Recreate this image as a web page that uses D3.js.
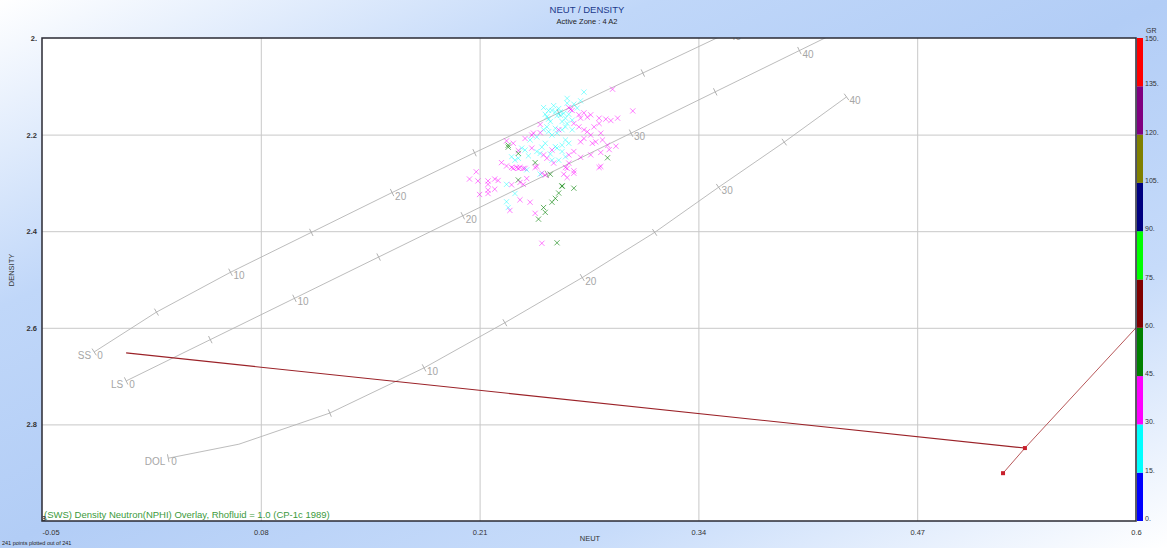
<!DOCTYPE html>
<html>
<head>
<meta charset="utf-8">
<script src="https://cdnjs.cloudflare.com/ajax/libs/d3/7.8.5/d3.min.js"></script>
<style>
  html, body { margin: 0; padding: 0; overflow: hidden; }
  svg { display: block; font-family: "Liberation Sans", Arial, sans-serif; }
</style>
</head>
<body>
<div id="chart"></div>
<script>
// axis ticks
var xTicks = [-0.05, 0.08, 0.21, 0.34, 0.47, 0.6];
var xTickLabels = ["-0.05", "0.08", "0.21", "0.34", "0.47", "0.6"];
var yTicks = [2, 2.2, 2.4, 2.6, 2.8, 3];
var yTickLabels = ["2.", "2.2", "2.4", "2.6", "2.8", "3"];

// GR colour bar
var grBreaks = [0, 15, 30, 45, 60, 75, 90, 105, 120, 135, 150];
var grLabels = ["0.", "15.", "30.", "45.", "60.", "75.", "90.", "105.", "120.", "135.", "150."];
var grColors = ["#0000ff", "#00ffff", "#ff00ff", "#008000", "#800000", "#00ff00", "#000080", "#808000", "#800080", "#ff0000"];

// lithology lines (CP-1c), porosity null = bend vertex without tick
var ssPhi  = [0, 5, 10, 15, 20, 25, 30, 35, 40];
var ssNeut = [-0.019, 0.018, 0.062, 0.110, 0.158, 0.207, 0.257, 0.307, 0.357];
var ssDens = [2.65, 2.5675, 2.485, 2.4025, 2.32, 2.2375, 2.155, 2.0725, 1.99];

var lsPhi  = [0, 5, 10, 15, 20, 25, 30, 35, 40, 45];
var lsNeut = [0, 0.05, 0.10, 0.15, 0.20, 0.25, 0.30, 0.35, 0.40, 0.45];
var lsDens = [2.71, 2.6245, 2.539, 2.4535, 2.368, 2.2825, 2.197, 2.1115, 2.026, 1.9405];

var dolPhi  = [0, null, 5, 10, 15, 20, 25, 30, 35, 40];
var dolNeut = [0.025, 0.067, 0.121, 0.177, 0.225, 0.271, 0.314, 0.352, 0.391, 0.428];
var dolDens = [2.87, 2.841, 2.7765, 2.683, 2.5895, 2.496, 2.4025, 2.309, 2.2155, 2.122];

// red overlay
var overlayA = [[0.0, 2.652], [0.534, 2.849]];
var overlayB = [[0.521, 2.901], [0.534, 2.849], [0.6, 2.600]];
var overlayMarks = [[0.534, 2.849], [0.521, 2.901]];

// data points [NEUT, DENSITY, GR]
var points = [
  [0.289,2.106,38],[0.272,2.112,22],[0.301,2.151,38],[0.262,2.125,22],[0.262,2.135,24],
  [0.266,2.137,22],[0.264,2.148,38],[0.265,2.150,40],[0.263,2.144,36],[0.248,2.144,22],
  [0.253,2.150,22],[0.255,2.153,25],[0.258,2.153,22],[0.260,2.156,20],[0.256,2.161,22],
  [0.249,2.158,22],[0.250,2.163,26],[0.269,2.159,38],[0.272,2.155,38],[0.274,2.164,36],
  [0.276,2.159,40],[0.270,2.166,38],[0.281,2.166,38],[0.285,2.168,38],[0.292,2.166,40],
  [0.288,2.171,38],[0.261,2.166,22],[0.265,2.170,22],[0.259,2.173,24],[0.252,2.173,22],
  [0.246,2.179,38],[0.250,2.184,22],[0.255,2.187,22],[0.259,2.190,22],[0.261,2.184,26],
  [0.251,2.194,22],[0.248,2.190,22],[0.266,2.177,38],[0.269,2.184,38],[0.272,2.190,40],
  [0.274,2.194,38],[0.278,2.184,36],[0.281,2.177,38],[0.276,2.201,38],[0.241,2.201,38],
  [0.242,2.197,40],[0.240,2.211,22],[0.246,2.196,38],[0.253,2.201,22],[0.265,2.190,22],
  [0.257,2.190,38],[0.282,2.197,38],[0.283,2.211,38],[0.261,2.211,22],[0.263,2.218,22],
  [0.259,2.222,24],[0.255,2.225,22],[0.270,2.215,38],[0.272,2.208,38],[0.277,2.218,40],
  [0.279,2.215,38],[0.286,2.222,38],[0.287,2.231,38],[0.291,2.224,38],[0.226,2.213,38],
  [0.227,2.222,52],[0.227,2.226,52],[0.230,2.218,38],[0.235,2.228,22],[0.233,2.233,38],
  [0.233,2.239,52],[0.237,2.208,38],[0.237,2.232,22],[0.241,2.228,38],[0.244,2.235,22],
  [0.246,2.239,22],[0.248,2.242,38],[0.250,2.249,38],[0.229,2.246,22],[0.231,2.253,22],
  [0.233,2.249,24],[0.253,2.232,38],[0.256,2.228,22],[0.259,2.235,22],[0.261,2.246,22],
  [0.257,2.253,22],[0.253,2.253,22],[0.263,2.242,38],[0.266,2.235,38],[0.270,2.247,38],
  [0.276,2.242,38],[0.282,2.237,38],[0.286,2.248,52],[0.223,2.258,38],[0.226,2.265,38],
  [0.229,2.268,38],[0.232,2.268,40],[0.234,2.268,38],[0.243,2.258,52],[0.243,2.268,38],
  [0.254,2.259,38],[0.261,2.268,38],[0.263,2.259,38],[0.281,2.268,38],[0.237,2.270,38],
  [0.208,2.277,38],[0.204,2.292,38],[0.209,2.296,38],[0.215,2.296,38],[0.215,2.303,38],
  [0.219,2.292,38],[0.221,2.295,38],[0.210,2.324,38],[0.215,2.315,40],[0.215,2.322,38],
  [0.219,2.313,38],[0.226,2.303,22],[0.229,2.304,38],[0.233,2.294,52],[0.234,2.299,38],
  [0.236,2.303,38],[0.238,2.291,38],[0.231,2.322,22],[0.234,2.335,38],[0.240,2.340,38],
  [0.226,2.339,22],[0.227,2.351,22],[0.228,2.357,38],[0.243,2.363,38],[0.245,2.375,52],
  [0.248,2.351,52],[0.249,2.361,52],[0.253,2.340,52],[0.255,2.332,52],[0.257,2.321,52],
  [0.259,2.306,52],[0.259,2.307,50],[0.266,2.311,52],[0.247,2.280,38],[0.246,2.282,22],
  [0.249,2.284,38],[0.252,2.282,52],[0.260,2.282,38],[0.262,2.289,38],[0.266,2.280,38],
  [0.266,2.275,38],[0.262,2.270,38],[0.282,2.266,38],[0.244,2.266,38],[0.247,2.425,38],
  [0.256,2.424,52],[0.230,2.270,38],[0.233,2.270,38],[0.236,2.270,38],[0.238,2.273,22],
  [0.254,2.140,22],[0.257,2.146,22],[0.251,2.168,22],[0.262,2.177,22],[0.256,2.197,22],
  [0.244,2.205,22],[0.249,2.218,22],[0.252,2.240,22],[0.239,2.244,22],[0.247,2.226,22],
  [0.258,2.160,22],[0.263,2.158,22],[0.270,2.130,22],[0.268,2.145,22],[0.251,2.150,24]
];

var W = 1167, H = 548;
var plot = { left: 42, top: 38, right: 1136, bottom: 521 };

var svg = d3.select("#chart").append("svg")
    .attr("width", W)
    .attr("height", H);

// background gradient
var defs = svg.append("defs");
var grad = defs.append("linearGradient")
    .attr("id", "bg")
    .attr("x1", 0).attr("y1", 0).attr("x2", 1).attr("y2", 1);
grad.append("stop").attr("offset", 0).attr("stop-color", "#ffffff");
grad.append("stop").attr("offset", 0.28).attr("stop-color", "#c0d7f9");
grad.append("stop").attr("offset", 0.5).attr("stop-color", "#b2cdf6");
grad.append("stop").attr("offset", 0.74).attr("stop-color", "#c6dbfa");
grad.append("stop").attr("offset", 1).attr("stop-color", "#ffffff");

defs.append("clipPath").attr("id", "plotclip")
  .append("rect")
    .attr("x", plot.left).attr("y", plot.top)
    .attr("width", plot.right - plot.left)
    .attr("height", plot.bottom - plot.top);

svg.append("rect").attr("width", W).attr("height", H).attr("fill", "url(#bg)");

var x = d3.scaleLinear().domain([-0.05, 0.6]).range([plot.left, plot.right]);
var y = d3.scaleLinear().domain([2, 3]).range([plot.top, plot.bottom]);

svg.append("rect")
    .attr("x", plot.left).attr("y", plot.top)
    .attr("width", plot.right - plot.left)
    .attr("height", plot.bottom - plot.top)
    .attr("fill", "#ffffff");

// grid
var grid = svg.append("g");
grid.append("g")
    .attr("transform", "translate(0," + plot.bottom + ")")
    .call(d3.axisBottom(x).tickValues(xTicks.slice(1, -1)).tickSize(-(plot.bottom - plot.top)).tickFormat(""))
    .call(function(g) { g.select(".domain").remove(); });
grid.append("g")
    .attr("transform", "translate(" + plot.left + ",0)")
    .call(d3.axisLeft(y).tickValues(yTicks.slice(1, -1)).tickSize(-(plot.right - plot.left)).tickFormat(""))
    .call(function(g) { g.select(".domain").remove(); });
grid.selectAll(".tick line").attr("stroke", "#c8c8c8").attr("stroke-width", 1);

var inner = svg.append("g").attr("clip-path", "url(#plotclip)");

// lithology lines
function drawLith(name, phi, neut, dens) {
  var pts = phi.map(function(p, i) { return { phi: p, px: x(neut[i]), py: y(dens[i]) }; });
  var line = d3.line().x(function(d) { return d.px; }).y(function(d) { return d.py; });
  inner.append("path")
      .attr("d", line(pts))
      .attr("fill", "none")
      .attr("stroke", "#b4b4b4")
      .attr("stroke-width", 0.9);
  pts.forEach(function(d, idx) {
    if (d.phi === null) return;
    var a = pts[Math.max(0, idx - 1)], b = pts[Math.min(pts.length - 1, idx + 1)];
    var dx = b.px - a.px, dy = b.py - a.py, len = Math.sqrt(dx * dx + dy * dy);
    var nx = -dy / len * 4, ny = dx / len * 4;
    inner.append("line")
        .attr("x1", d.px - nx).attr("y1", d.py - ny)
        .attr("x2", d.px + nx).attr("y2", d.py + ny)
        .attr("stroke", "#a8a8a8").attr("stroke-width", 0.9);
    if (d.phi % 10 === 0 && !(name === "SS" && d.phi === 30)) {
      inner.append("text")
          .attr("x", d.px + 3).attr("y", d.py + 7)
          .attr("font-size", 10)
          .attr("fill", "#a6a6a6")
          .text(d.phi);
    }
  });
  inner.append("text")
      .attr("x", pts[0].px - 3).attr("y", pts[0].py + 7)
      .attr("text-anchor", "end")
      .attr("font-size", 10)
      .attr("fill", "#a6a6a6")
      .text(name);
}
drawLith("SS", ssPhi, ssNeut, ssDens);
drawLith("LS", lsPhi, lsNeut, lsDens);
drawLith("DOL", dolPhi, dolNeut, dolDens);

// red overlay
var redLine = d3.line().x(function(d) { return x(d[0]); }).y(function(d) { return y(d[1]); });
inner.append("path").attr("d", redLine(overlayA))
    .attr("fill", "none").attr("stroke", "#9b2228").attr("stroke-width", 1.1);
inner.append("path").attr("d", redLine(overlayB))
    .attr("fill", "none").attr("stroke", "#b8585a").attr("stroke-width", 1);
inner.selectAll(".mk").data(overlayMarks).enter().append("rect")
    .attr("x", function(d) { return x(d[0]) - 2; })
    .attr("y", function(d) { return y(d[1]) - 2; })
    .attr("width", 4).attr("height", 4)
    .attr("fill", "#c8202c");

// scatter points
var grColor = d3.scaleThreshold().domain(grBreaks.slice(1, -1)).range(grColors);
inner.selectAll(".pt").data(points).enter().append("path")
    .attr("transform", function(d) { return "translate(" + x(d[0]) + "," + y(d[1]) + ")"; })
    .attr("d", "M-2.6,-2.6L2.6,2.6M-2.6,2.6L2.6,-2.6")
    .attr("stroke", function(d) { return grColor(d[2]); })
    .attr("stroke-opacity", function(d) { return d[2] >= 45 ? 0.6 : (d[2] >= 30 ? 0.5 : 0.45); })
    .attr("stroke-width", 1);

// overlay caption
svg.append("text")
    .attr("x", 44).attr("y", 518)
    .attr("font-size", 9.5)
    .attr("fill", "#3c9a3c")
    .text("(SWS) Density Neutron(NPHI) Overlay, Rhofluid = 1.0 (CP-1c 1989)");

// frame
svg.append("rect")
    .attr("x", plot.left).attr("y", plot.top)
    .attr("width", plot.right - plot.left)
    .attr("height", plot.bottom - plot.top)
    .attr("fill", "none")
    .attr("stroke", "#2a2a33")
    .attr("stroke-width", 1.5);

// axes labels
var xAxis = svg.append("g")
    .attr("transform", "translate(0," + plot.bottom + ")")
    .call(d3.axisBottom(x).tickValues(xTicks).tickSize(0).tickPadding(9)
      .tickFormat(function(d, i) { return xTickLabels[i]; }));
xAxis.select(".domain").remove();
xAxis.selectAll("text").attr("font-size", 7.5).attr("fill", "#333")
    .attr("font-family", "Liberation Sans, Arial, sans-serif")
    .attr("text-anchor", function(d, i) { return i === 0 ? "start" : "middle"; });

var yAxis = svg.append("g")
    .attr("transform", "translate(" + plot.left + ",0)")
    .call(d3.axisLeft(y).tickValues(yTicks).tickSize(0).tickPadding(5)
      .tickFormat(function(d, i) { return yTickLabels[i]; }));
yAxis.select(".domain").remove();
yAxis.selectAll("text").attr("font-size", 7.5).attr("fill", "#333").attr("font-weight", "bold")
    .attr("font-family", "Liberation Sans, Arial, sans-serif");
yAxis.selectAll(".tick").filter(function(d) { return d === 3; }).select("text")
    .attr("x", 4).attr("dy", "-0.1em");

svg.append("text").attr("x", 590).attr("y", 541)
    .attr("text-anchor", "middle").attr("font-size", 7.5).attr("fill", "#333").text("NEUT");
svg.append("text").attr("transform", "translate(14,270) rotate(-90)")
    .attr("text-anchor", "middle").attr("font-size", 7.5).attr("fill", "#333").text("DENSITY");

// title
svg.append("text").attr("x", 587).attr("y", 13)
    .attr("text-anchor", "middle").attr("font-size", 9.5).attr("fill", "#1c3a8c").text("NEUT / DENSITY");
svg.append("text").attr("x", 587).attr("y", 24)
    .attr("text-anchor", "middle").attr("font-size", 7.5).attr("fill", "#222").text("Active Zone : 4  A2");

// colour bar
var cb = d3.scaleLinear().domain([0, 150]).range([plot.bottom, plot.top]);
var cbar = svg.append("g");
cbar.selectAll("rect").data(grColors).enter().append("rect")
    .attr("x", 1137).attr("width", 6)
    .attr("y", function(d, i) { return cb(grBreaks[i + 1]); })
    .attr("height", function(d, i) { return cb(grBreaks[i]) - cb(grBreaks[i + 1]); })
    .attr("fill", function(d) { return d; });
cbar.selectAll("text").data(grBreaks).enter().append("text")
    .attr("x", 1145)
    .attr("y", function(d) { return cb(d) + (d === 150 ? 3 : 0); })
    .attr("font-size", 7)
    .attr("fill", "#333")
    .text(function(d, i) { return grLabels[i]; });
svg.append("text").attr("x", 1146).attr("y", 33)
    .attr("font-size", 7).attr("fill", "#333").text("GR");

svg.append("text").attr("x", 2).attr("y", 545)
    .attr("font-size", 5.5).attr("fill", "#222").text("241 points plotted out of 241");
</script>
</body>
</html>
